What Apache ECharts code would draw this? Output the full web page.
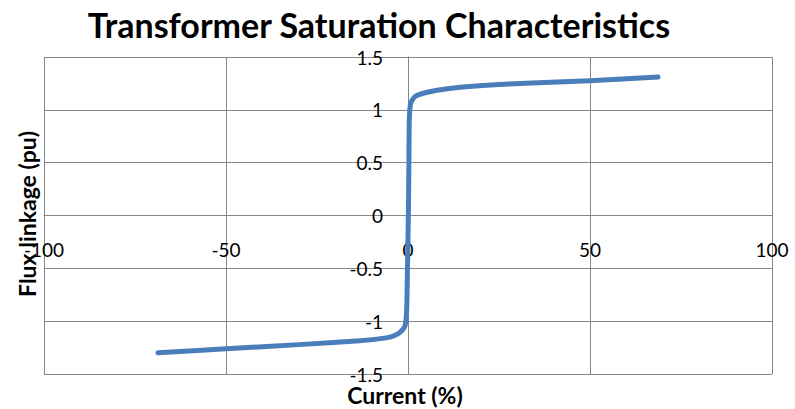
<!DOCTYPE html>
<html>
<head>
<meta charset="utf-8">
<script src="https://cdn.jsdelivr.net/npm/echarts@6/dist/echarts.min.js"></script>
<style>
  html, body { margin: 0; padding: 0; background: #ffffff; }
  #chart { width: 795px; height: 409px; }
  #chart text { font-variant-ligatures: none; }
</style>
</head>
<body>
<div id="chart"></div>
<script>
// Magnetising curve: current in % against flux linkage in pu
const currentPct = [-68.7, -50, -30, -13.2, -6, -4, -2.2, -0.8, -0.36, -0.15, 0.1, 0.25, 0.36, 0.74, 1.9, 4.2, 8, 14.3, 25, 50, 68.7];
const fluxPu     = [-1.30, -1.262, -1.222, -1.186, -1.158, -1.14, -1.107, -1.044, -0.887, -0.5, 0, 0.5, 0.906, 1.063, 1.125, 1.157, 1.185, 1.214, 1.24, 1.275, 1.31];

const xTicks = [-100, -50, 0, 50, 100];
const yTicks = [-1.5, -1, -0.5, 0, 0.5, 1, 1.5];

const chartTitle = 'Transformer Saturation Characteristics';
const xTitle = 'Current (%)';
const yTitle = 'Flux linkage (pu)';

const points = currentPct.map((c, i) => [c, fluxPu[i]]);

const W = 795, H = 409;
const plot = { left: 44, right: 23, top: 57, bottom: 35 };
const plotW = W - plot.left - plot.right;
const plotH = H - plot.top - plot.bottom;
const xMin = xTicks[0], xMax = xTicks[xTicks.length - 1];
const yMin = yTicks[0], yMax = yTicks[yTicks.length - 1];
// Axes cross at the origin: shift each axis from the plot edge to the zero line
const xAxisShift = -plotH * (0 - yMin) / (yMax - yMin);
const yAxisShift = -plotW * (0 - xMin) / (xMax - xMin);

const gridColor = '#878787';
const font = 'Lato, "Open Sans", sans-serif';

const chart = echarts.init(document.getElementById('chart'), null, { renderer: 'svg' });
chart.setOption({
  animation: false,
  backgroundColor: '#ffffff',
  grid: Object.assign({ containLabel: false, outerBoundsMode: 'none' }, plot),
  xAxis: {
    type: 'value',
    min: xMin,
    max: xMax,
    interval: 50,
    position: 'bottom',
    offset: xAxisShift,
    axisLine: { show: true, onZero: false, lineStyle: { color: gridColor, width: 1 } },
    axisTick: { show: false },
    splitLine: { show: true, lineStyle: { color: gridColor, width: 1 } },
    axisLabel: { margin: 24, color: '#000', fontSize: 19, fontFamily: font, hideOverlap: false }
  },
  yAxis: {
    type: 'value',
    min: yMin,
    max: yMax,
    interval: 0.5,
    position: 'left',
    offset: yAxisShift,
    axisLine: { show: true, onZero: false, lineStyle: { color: gridColor, width: 1 } },
    axisTick: { show: false },
    splitLine: { show: true, lineStyle: { color: gridColor, width: 1 } },
    axisLabel: { margin: 25, color: '#000', fontSize: 19, fontFamily: font, hideOverlap: false }
  },
  series: [{
    type: 'line',
    data: points,
    showSymbol: false,
    smooth: 0.2,
    lineStyle: { color: '#4A7EBB', width: 5, cap: 'round', join: 'round' },
    itemStyle: { color: '#4A7EBB' }
  }],
  graphic: [
    {
      type: 'text', x: 379, y: 24,
      style: { text: chartTitle, font: 'bold 34px ' + font, fill: '#000', align: 'center', verticalAlign: 'middle' }
    },
    {
      type: 'text', x: 405, y: 395,
      style: { text: xTitle, font: 'bold 23px ' + font, fill: '#000', align: 'center', verticalAlign: 'middle' }
    },
    {
      type: 'text', x: 27, y: 214, rotation: Math.PI / 2,
      style: { text: yTitle, font: 'bold 23px ' + font, fill: '#000', align: 'center', verticalAlign: 'middle' }
    }
  ]
});
</script>
</body>
</html>
